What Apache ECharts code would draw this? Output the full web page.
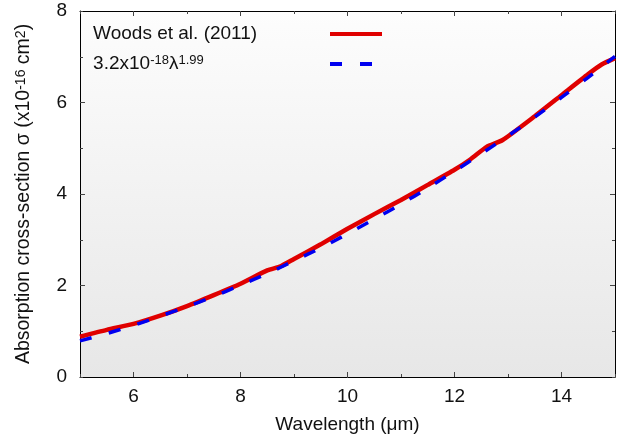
<!DOCTYPE html>
<html>
<head>
<meta charset="utf-8">
<script src="https://cdn.jsdelivr.net/npm/echarts@6/dist/echarts.min.js"></script>
<style>
  html, body { margin: 0; padding: 0; background: #fff; }
  #chart { width: 618px; height: 439px; }
</style>
</head>
<body>
<div id="chart"></div>
<script>
const woodsWavelength = [5, 5.5, 6, 6.5, 7, 7.5, 8, 8.5, 8.75, 9, 9.5, 10, 10.5, 11, 11.5, 12, 12.3, 12.6, 12.9, 13.5, 14, 14.5, 14.75, 15];
const woodsSigma = [0.88, 1.03, 1.16, 1.34, 1.55, 1.79, 2.04, 2.33, 2.42, 2.58, 2.90, 3.24, 3.56, 3.87, 4.20, 4.53, 4.76, 5.03, 5.18, 5.70, 6.16, 6.62, 6.83, 6.97];

// power-law fit curve
const fitWavelength = [5, 5.5, 6, 6.5, 7, 7.5, 8, 8.5, 9, 9.5, 10, 10.5, 11, 11.5, 12, 12.5, 13, 13.5, 14, 14.5, 15];
const fitSigma = [0.79, 0.95, 1.13, 1.33, 1.54, 1.76, 2.01, 2.26, 2.54, 2.82, 3.13, 3.45, 3.78, 4.13, 4.50, 4.88, 5.27, 5.68, 6.11, 6.55, 7.01];

const xLabels = [6, 8, 10, 12, 14];
const yLabels = [0, 2, 4, 6, 8];

const woodsName = 'Woods et al. (2011)';
const fitName = '3.2x10-18λ1.99';

const font = 'Liberation Sans, Arial, Helvetica, sans-serif';
const ink = '#111';
const supStyle = { fontSize: 13, fontFamily: font, color: ink, verticalAlign: 'top', lineHeight: 12 };

function pairs (xs, ys) {
    return xs.map((x, i) => [x, ys[i]]);
}

function legendText (name) {
    return name === fitName ? '3.2x10{sup|-18}λ{sup|1.99}' : name;
}

const myChart = echarts.init(document.getElementById('chart'), null, { renderer: 'canvas' });

// helper for the box axes: minor ticks on every integer, major ticks on the labelled values
function xAx (pos, major, labels) {
    return {
        type: 'value',
        position: pos,
        min: 5,
        max: 15,
        interval: 1,
        axisLine: { show: major, onZero: false, lineStyle: { color: '#000', width: 1 } },
        axisTick: major
            ? { show: true, inside: true, length: 5, customValues: xLabels, lineStyle: { color: '#444' } }
            : { show: true, inside: true, length: 3, lineStyle: { color: '#444' } },
        axisLabel: labels
            ? { show: true, customValues: xLabels, margin: 10, fontSize: 19, fontFamily: font, color: ink }
            : { show: false },
        splitLine: { show: false }
    };
}
function yAx (pos, major, labels) {
    return {
        type: 'value',
        position: pos,
        min: 0,
        max: 8,
        interval: 1,
        axisLine: { show: major, onZero: false, lineStyle: { color: '#000', width: 1 } },
        axisTick: major
            ? { show: true, inside: true, length: 5, customValues: [2, 4, 6], lineStyle: { color: '#444' } }
            : { show: true, inside: true, length: 3, lineStyle: { color: '#444' } },
        axisLabel: labels
            ? { show: true, customValues: yLabels, margin: 13, fontSize: 19, fontFamily: font, color: ink }
            : { show: false },
        splitLine: { show: false }
    };
}

const xMain = xAx('bottom', true, true);
xMain.name = 'Wavelength (μm)';
xMain.nameLocation = 'middle';
xMain.nameGap = 38;
xMain.nameTextStyle = { fontSize: 19, fontFamily: font, color: ink };

const yMain = yAx('left', true, true);
yMain.name = 'Absorption cross-section σ (x10{sup|-16} cm{sup|2})';
yMain.nameLocation = 'middle';
yMain.nameGap = 46;
yMain.nameTextStyle = { fontSize: 19.5, fontFamily: font, color: ink, rich: { sup: Object.assign({}, supStyle, { fontSize: 14 }) } };

const legendTextStyle = {
    fontSize: 19,
    fontFamily: font,
    color: ink,
    lineHeight: 20,
    rich: { sup: supStyle }
};

const option = {
    animation: false,
    backgroundColor: '#fff',
    grid: {
        left: 80,
        right: 3,
        top: 11,
        bottom: 61,
        show: true,
        borderWidth: 0,
        backgroundColor: new echarts.graphic.LinearGradient(0, 0, 0, 1, [
            { offset: 0, color: '#fdfdfd' },
            { offset: 1, color: '#e7e7e7' }
        ])
    },
    legend: [
        // titles only
        {
            orient: 'vertical',
            left: 77,
            top: 19,
            itemWidth: 1,
            itemHeight: 14,
            itemGap: 10,
            itemStyle: { opacity: 0 },
            lineStyle: { opacity: 0 },
            data: [woodsName, fitName],
            formatter: legendText,
            textStyle: legendTextStyle
        },
        // line samples only (text kept invisible so rows line up)
        {
            orient: 'vertical',
            left: 323,
            top: 19,
            itemWidth: 52,
            itemHeight: 14,
            itemGap: 10,
            itemStyle: { opacity: 0 },
            lineStyle: { width: 4 },
            data: [woodsName, fitName],
            formatter: legendText,
            textStyle: Object.assign({}, legendTextStyle, {
                color: 'rgba(0,0,0,0)',
                rich: { sup: Object.assign({}, supStyle, { color: 'rgba(0,0,0,0)' }) }
            })
        }
    ],
    xAxis: [xMain, xAx('bottom', false, false), xAx('top', true, false), xAx('top', false, false)],
    yAxis: [yMain, yAx('left', false, false), yAx('right', true, false), yAx('right', false, false)],
    series: [
        {
            name: woodsName,
            type: 'line',
            xAxisIndex: 0,
            yAxisIndex: 0,
            symbol: 'none',
            smooth: 0.2,
            data: pairs(woodsWavelength, woodsSigma),
            lineStyle: { color: '#e00000', width: 4.5 },
            itemStyle: { color: '#e00000' }
        },
        {
            name: fitName,
            type: 'line',
            xAxisIndex: 0,
            yAxisIndex: 0,
            symbol: 'none',
            smooth: 0.3,
            data: pairs(fitWavelength, fitSigma),
            lineStyle: { color: '#0000f0', width: 3.5, type: [12, 18] },
            itemStyle: { color: '#0000f0' }
        }
    ]
};

myChart.setOption(option);
window.addEventListener('resize', () => {
    myChart.resize();
});
</script>
</body>
</html>
